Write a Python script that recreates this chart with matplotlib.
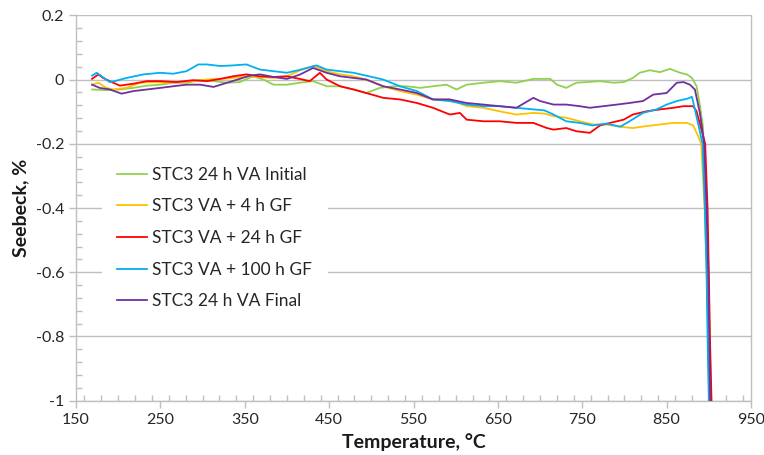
import numpy as np
import matplotlib
matplotlib.use('Agg')
import matplotlib.pyplot as plt
from matplotlib.ticker import MultipleLocator

plt.rcParams['font.family'] = ['Lato', 'DejaVu Sans']

# values (temperature degC, seebeck %)
t_initial = [169, 186, 202, 218, 234, 250, 265, 281, 297, 313, 329, 344, 360, 372, 384, 400, 415,
             431, 447, 463, 479, 494, 510, 526, 542, 558, 573, 589, 601, 613, 633, 652, 672, 692,
             712, 720, 731, 743, 755, 771, 787, 799, 810, 818, 830, 842, 854, 866, 874, 880, 885.5,
             889, 893, 895, 897, 899.5, 901, 902.5]
s_initial = [-0.031, -0.033, -0.031, -0.026, -0.019, -0.016, -0.010, -0.010, -0.002, -0.005, -0.010,
             -0.008, 0.010, 0.000, -0.016, -0.016, -0.010, -0.005, -0.021, -0.021, -0.031, -0.042,
             -0.026, -0.021, -0.021, -0.026, -0.021, -0.016, -0.031, -0.016, -0.010, -0.005, -0.010,
             0.002, 0.002, -0.016, -0.026, -0.010, -0.008, -0.005, -0.010, -0.008, 0.005, 0.021,
             0.029, 0.023, 0.033, 0.021, 0.016, 0.005, -0.021, -0.073, -0.145, -0.25, -0.4, -0.6,
             -0.8, -1.0]

t_4h = [169, 176.5, 186, 194, 210, 226, 242, 257.5, 273, 289, 305, 321, 336, 352, 368, 384, 400,
        415, 431, 447, 463, 479, 494, 514, 534, 554, 573, 593, 613, 633, 652, 672, 692, 705, 716,
        731, 747, 763, 779, 795, 810, 826, 842, 858, 874, 881.5, 887.5, 891, 895, 897.5, 899, 900.5]
s_4h = [-0.016, -0.010, -0.026, -0.031, -0.026, -0.010, -0.008, -0.010, -0.008, -0.005, 0.000,
        0.002, 0.005, 0.010, 0.008, 0.005, 0.010, 0.028, 0.042, 0.026, 0.016, 0.010, 0.000, -0.021,
        -0.036, -0.047, -0.062, -0.062, -0.083, -0.088, -0.099, -0.109, -0.104, -0.106, -0.114,
        -0.119, -0.130, -0.140, -0.140, -0.147, -0.151, -0.145, -0.140, -0.135, -0.135, -0.143,
        -0.177, -0.2, -0.4, -0.6, -0.8, -1.0]

t_24h = [169, 176.5, 182, 194, 202, 218, 234, 250, 269, 289, 305, 321, 336, 352, 368, 384, 400,
         415, 427, 439, 447, 463, 479, 494, 514, 534, 554, 573, 593, 605, 613, 633, 652, 672, 692,
         708, 716, 731, 743, 759, 771, 783, 799, 810, 826, 842, 858, 870, 881.5, 885.5, 895.7,
         898.5, 900, 901.3, 903.2]
s_24h = [0.002, 0.016, 0.005, -0.010, -0.019, -0.013, -0.005, -0.005, -0.008, -0.002, -0.005,
         0.002, 0.010, 0.016, 0.010, 0.008, 0.010, 0.002, -0.005, 0.021, 0.000, -0.021, -0.031,
         -0.042, -0.057, -0.062, -0.073, -0.088, -0.109, -0.104, -0.125, -0.130, -0.130, -0.135,
         -0.135, -0.151, -0.156, -0.151, -0.161, -0.166, -0.143, -0.135, -0.125, -0.109, -0.099,
         -0.093, -0.088, -0.083, -0.083, -0.099, -0.2, -0.4, -0.6, -0.8, -1.0]

t_100h = [169, 174.5, 190, 196, 210, 230, 250, 265, 281, 295, 305, 321, 336, 352, 368, 384, 400,
          415, 435, 447, 463, 479, 494, 514, 534, 554, 573, 593, 613, 633, 652, 672, 692, 705, 716,
          731, 747, 762, 779, 795, 806, 822, 838, 850, 862, 874, 880, 883.5, 892.6, 895.3, 897.3,
          898.5, 900]
s_100h = [0.012, 0.021, -0.008, -0.005, 0.005, 0.016, 0.021, 0.018, 0.026, 0.047, 0.047, 0.042,
          0.044, 0.047, 0.031, 0.026, 0.021, 0.030, 0.044, 0.031, 0.026, 0.021, 0.012, 0.000,
          -0.021, -0.036, -0.062, -0.067, -0.078, -0.083, -0.083, -0.088, -0.093, -0.096, -0.109,
          -0.130, -0.135, -0.143, -0.137, -0.147, -0.130, -0.104, -0.093, -0.078, -0.067, -0.060,
          -0.054, -0.093, -0.2, -0.4, -0.6, -0.8, -1.0]

t_final = [169, 178, 190, 204, 218, 234, 250, 265, 281, 297, 313, 329, 344, 356, 368, 384, 400,
           415, 431, 447, 463, 479, 494, 514, 534, 554, 573, 593, 613, 633, 652, 672, 692, 700, 716,
           731, 747, 759, 775, 791, 806, 822, 834, 850, 862, 870, 877.5, 883.5, 889.4, 894.5, 897.3,
           899.3, 900.5, 901.6]
s_final = [-0.016, -0.026, -0.031, -0.044, -0.036, -0.031, -0.026, -0.021, -0.016, -0.016, -0.023,
           -0.010, 0.002, 0.012, 0.016, 0.008, 0.002, 0.015, 0.036, 0.021, 0.010, 0.005, 0.000,
           -0.021, -0.031, -0.042, -0.062, -0.062, -0.073, -0.078, -0.083, -0.088, -0.057, -0.067,
           -0.078, -0.078, -0.083, -0.088, -0.083, -0.078, -0.073, -0.067, -0.047, -0.042, -0.010,
           -0.008, -0.016, -0.031, -0.104, -0.2, -0.4, -0.6, -0.8, -1.0]

series = [
    ('STC3 24 h VA Initial', t_initial, s_initial, '#92D050'),
    ('STC3 VA + 4 h GF', t_4h, s_4h, '#FFC000'),
    ('STC3 VA + 24 h GF', t_24h, s_24h, '#FF0000'),
    ('STC3 VA + 100 h GF', t_100h, s_100h, '#00B0F0'),
    ('STC3 24 h VA Final', t_final, s_final, '#7030A0'),
]

x_ticks = [150, 250, 350, 450, 550, 650, 750, 850, 950]
y_ticks = [-1, -0.8, -0.6, -0.4, -0.2, 0, 0.2]
y_labels = ['-1', '-0.8', '-0.6', '-0.4', '-0.2', '0', '0.2']

fig = plt.figure(figsize=(7.64, 4.55), dpi=100)
ax = fig.add_axes([0.0995, 0.1193, 0.8835, 0.8471])

grid_c = '#BFBFBF'
for name, t, s, c in series:
    ax.plot(t, s, color=c, lw=1.3, label=name, zorder=3)

ax.set_xlim(150, 950)
ax.set_ylim(-1, 0.2)
ax.set_xticks(x_ticks)
ax.set_yticks(y_ticks)
ax.set_yticklabels(y_labels)
ax.xaxis.set_minor_locator(MultipleLocator(20))
ax.yaxis.set_minor_locator(MultipleLocator(0.04))
ax.tick_params(which='major', direction='out', length=5, width=1, color=grid_c,
               labelsize=11.5, labelcolor='#262626')
ax.tick_params(which='minor', direction='in', length=4, width=1, color=grid_c)
ax.tick_params(axis='x', pad=4)

ax.grid(axis='y', which='major', color=grid_c, lw=1, zorder=0)
ax.set_axisbelow(True)
for side in ['left', 'bottom', 'right']:
    ax.spines[side].set_color(grid_c)
    ax.spines[side].set_linewidth(1)
ax.spines['top'].set_visible(False)

ax.set_xlabel('Temperature, \u00b0C', fontsize=14, fontweight='bold', color='#1a1a1a', labelpad=4)
ax.set_ylabel('Seebeck, %', fontsize=14, fontweight='bold', color='#1a1a1a', labelpad=5)

leg = ax.legend(loc='center left', bbox_to_anchor=(0.038, 0.422), fontsize=12.5,
                frameon=True, facecolor='white', edgecolor='none', framealpha=1,
                handlelength=1.7, handletextpad=0.3, labelspacing=0.9, borderpad=0.9,
                borderaxespad=0)
leg.set_zorder(5)
for txt in leg.get_texts():
    txt.set_color('#262626')

fig.savefig('out.png', dpi=100)
